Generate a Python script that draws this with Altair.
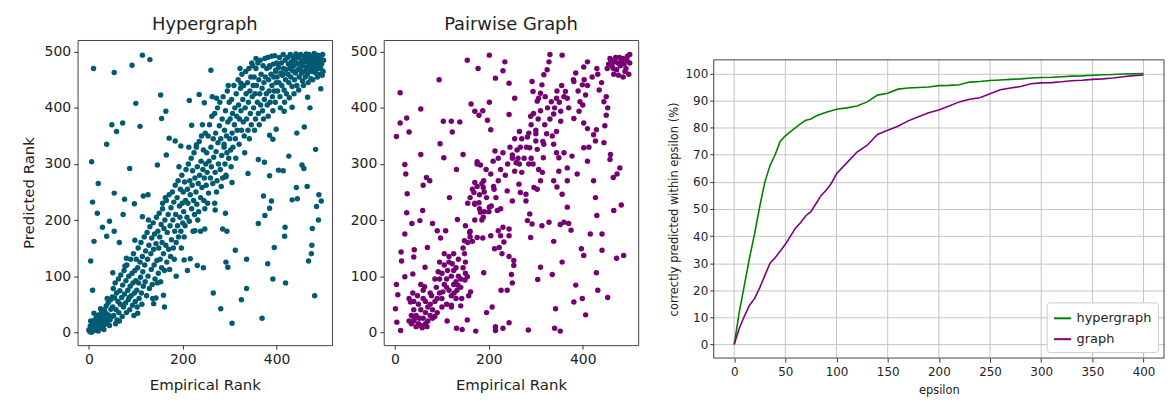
import altair as alt
import pandas as pd

# ---------------- data ----------------
hyper_outliers = [
    (10,470),(54,463),(92,476),(114,494),(130,486),(260,467),(356,488),(324,444),(153,423),(164,394),
    (155,381),(100,408),(214,413),(235,424),(246,409),(272,417),(109,367),(49,370),(72,373),(59,358),
    (38,335),(87,292),(6,304),(146,298),(165,316),(171,346),(184,341),(196,332),(219,369),(229,334),
    (20,265),(54,248),(8,232),(97,229),(76,237),(116,243),(126,245),(157,230),(18,212),(73,210),
    (114,206),(44,198),(29,187),(54,180),(38,171),(65,160),(11,162),(98,164),(4,127),(80,132),
    (8,75),(51,106),(104,34),
    (265,70),(281,42),(305,16),(325,58),(336,78),(369,25),(336,130),(312,146),(292,125),(296,116),
    (244,115),(231,119),(210,110),(216,131),(203,129),(186,100),(161,45),(138,51),(143,61),(159,66),
    (381,122),(392,95),(395,151),(419,88),(417,171),(418,187),(481,65),(468,127),(474,140),(475,155),
    (476,185),(489,200),(485,224),(490,245),(495,234),(483,326),(465,260),(458,292),(454,298),(444,238),
    (433,236),(442,258),(426,314),(414,288),(404,289),(372,243),(375,208),(389,234),(385,221),(361,194),
    (374,303),(361,308),(385,279),(385,351),(392,344),(399,362),(443,355),(459,366),(416,394),(433,401),
    (471,400),(466,419),(494,434),(398,467),(385,473),(414,460),(339,283),(305,267),(292,277),(288,330),
    (269,218),(268,230),(291,212),(294,180),(285,184),(238,180),(247,184),(226,181),
]

hyper_band = [
    (0,4),(2,1),(3,11),(5,6),(6,0),(7,17),(9,9),(10,3),(12,22),(13,13),(14,4),(16,27),(17,10),(19,19),
    (20,2),(21,31),(23,14),(24,24),(26,8),(27,36),(29,18),(30,29),(31,12),(33,40),(34,24),(36,15),
    (37,47),(38,33),(40,21),(41,52),(43,30),(44,12),(46,58),(47,41),(48,27),(50,63),(4,20),(11,34),
    (18,6),(25,42),(32,5),(39,60),(45,22),
    (51,45),(52,78),(53,30),(55,61),(56,88),(58,40),(59,70),(60,22),(62,55),(63,95),(64,35),(66,74),
    (67,50),(68,102),(70,62),(71,28),(72,84),(74,45),(75,110),(76,68),(78,52),(79,92),(80,35),(81,120),
    (83,75),(84,58),(85,100),(87,40),(88,82),(89,130),(90,65),(92,105),(93,48),(94,88),(95,140),(97,70),
    (98,110),(99,55),(100,92),(57,15),(65,20),(77,118),(86,62),(96,30),
    (101,130),(102,75),(104,115),(105,150),(106,88),(107,60),(109,125),(110,98),(111,160),(112,70),
    (114,135),(115,108),(116,82),(118,170),(119,120),(120,90),(121,145),(123,65),(124,178),(125,130),
    (126,100),(128,155),(129,78),(130,188),(132,140),(133,112),(134,168),(135,85),(137,195),(138,148),
    (139,120),(140,175),(141,95),(143,158),(144,205),(145,128),(147,180),(148,105),(149,150),(150,212),
    (103,45),(113,50),(127,200),(136,60),(146,88),
    (151,170),(152,130),(154,192),(155,115),(156,160),(157,220),(159,140),(160,185),(161,110),(162,200),
    (164,155),(165,235),(166,125),(167,178),(169,210),(170,148),(171,245),(173,190),(174,135),(175,222),
    (176,165),(178,250),(179,200),(180,150),(181,232),(183,180),(184,262),(185,210),(186,160),(188,240),
    (189,190),(190,270),(191,170),(193,225),(194,205),(195,255),(196,180),(198,280),(199,230),(200,195),
    (153,90),(163,240),(172,112),(182,130),(192,295),(197,150),
    (201,250),(202,215),(204,268),(205,190),(206,235),(207,290),(209,205),(210,255),(211,230),(212,300),
    (214,198),(215,270),(216,245),(218,310),(219,220),(220,262),(221,288),(223,235),(224,320),(225,210),
    (226,275),(228,250),(229,330),(230,228),(231,295),(233,265),(234,215),(235,340),(236,280),(238,240),
    (239,305),(240,350),(241,258),(243,290),(244,325),(245,235),(246,275),(248,355),(249,300),(250,262),
    (203,170),(213,330),(222,180),(232,200),(242,370),(247,220),
    (251,320),(252,285),(254,350),(255,248),(256,305),(257,370),(259,275),(260,330),(261,295),(262,385),
    (264,265),(265,345),(266,312),(268,390),(269,285),(270,355),(271,322),(273,270),(274,400),(275,338),
    (276,300),(278,368),(279,410),(280,290),(281,345),(283,315),(284,380),(285,275),(286,420),(288,335),
    (289,360),(290,300),(291,395),(293,350),(294,320),(295,430),(296,375),(298,310),(299,410),(300,345),
    (253,230),(263,420),(272,250),(282,260),(292,280),(297,440),
    (301,380),(302,325),(304,415),(305,355),(306,390),(307,330),(309,440),(310,370),(311,400),(312,345),
    (314,425),(315,385),(316,360),(318,450),(319,405),(320,335),(321,380),(323,435),(324,395),(325,360),
    (326,460),(328,415),(329,375),(330,440),(331,350),(333,400),(334,465),(335,425),(336,380),(338,445),
    (339,360),(340,410),(341,470),(343,430),(344,390),(345,455),(346,370),(348,420),(349,475),(350,440),
    (303,295),(313,310),(322,470),(332,320),(342,345),(347,480),
    (351,400),(352,455),(354,425),(355,380),(356,470),(357,440),(359,410),(360,480),(361,390),(362,450),
    (364,425),(365,485),(366,405),(367,460),(369,435),(370,395),(371,475),(373,445),(374,415),(375,488),
    (376,455),(378,425),(379,470),(380,405),(381,490),(383,450),(384,430),(385,475),(386,410),(388,460),
    (389,492),(390,440),(391,420),(393,478),(394,455),(395,430),(396,493),(398,465),(399,445),(400,480),
    (353,360),(363,370),(372,380),(382,385),(392,395),(397,410),
    (401,455),(402,430),(404,472),(405,445),(406,490),(407,420),(409,462),(410,480),(411,440),(412,458),
    (414,495),(415,470),(416,432),(418,485),(419,450),(420,468),(421,425),(423,490),(424,460),(425,478),
    (426,445),(428,470),(429,495),(430,455),(431,482),(433,438),(434,466),(435,490),(436,475),(438,450),
    (439,485),(440,462),(441,496),(443,440),(444,478),(445,468),(446,490),(448,455),(449,480),(450,470),
    (451,495),(453,462),(454,485),(455,448),(456,475),(458,492),(459,465),(460,482),(461,455),(463,496),
    (464,472),(465,488),(466,460),(468,480),(469,495),(470,468),(471,486),(473,452),(474,476),(475,492),
    (476,465),(478,484),(479,470),(480,497),(481,478),(483,462),(484,490),(485,480),(486,470),(488,494),
    (489,484),(490,460),(491,476),(493,492),(494,470),(495,486),(496,478),(498,495),(499,465),(500,485),
    (408,400),(417,410),(427,418),(437,425),(447,432),(457,440),(467,445),(477,450),(487,455),(497,458),
]

pair_scatter = [
    (3,349),(11,427),(11,373),(25,382),(30,357),(55,398),(94,450),(154,485),(177,470),(201,494),
    (234,482),(230,466),(214,453),(243,444),(255,417),(243,388),(201,410),(197,378),(204,361),(187,395),
    (162,407),(170,394),(179,387),(120,376),(122,357),(138,375),(103,376),(96,336),(104,311),(55,317),
    (21,299),(23,282),(26,247),(25,213),(21,175),(13,143),(14,127),(21,99),(3,85),(6,67),
    (1,42),(4,18),(12,3),(33,54),(41,23),(60,262),(67,276),(74,270),(69,151),(59,217),
    (53,199),(36,194),(41,147),(40,134),(38,104),(64,116),(63,81),(80,194),(90,181),(108,181),
    (97,168),(116,240),(131,290),(145,317),(133,201),(148,163),(159,178),(168,249),(170,267),(175,304),
    (182,298),(189,270),(188,258),(194,290),(209,305),(213,323),(204,282),(211,255),(201,223),(188,205),
    (182,214),(179,231),(170,228),(175,169),(187,168),(165,162),(204,172),(218,217),(225,220),(230,187),
    (220,181),(225,172),(222,151),(232,161),(228,140),(243,135),(212,149),(243,184),(243,172),(239,252),
    (250,234),(255,287),(258,302),(250,316),(262,310),(264,264),(267,249),(279,246),(279,234),(267,330),
    (270,345),(265,358),(282,348),(285,355),(289,385),(287,329),(290,310),(294,300),(296,258),(287,211),
    (282,199),(292,193),(289,169),(303,255),(310,270),(306,290),(314,285),(316,311),(303,326),(300,341),
    (317,335),(323,354),(319,370),(300,354),(303,412),(310,426),(313,441),(317,459),(330,495),(328,482),
    (324,468),(356,494),(292,447),(294,429),(306,417),(333,411),(344,417),(338,389),(353,394),(353,376),
    (344,358),(338,335),(344,320),(360,320),(349,311),(338,270),(349,287),(345,259),(356,246),(367,270),
    (367,293),(377,314),(388,282),(363,429),(367,417),(381,447),(385,462),(399,441),(403,450),(402,473),
    (410,482),(406,423),(394,411),(392,394),(381,381),(402,373),(410,363),(402,329),(410,305),(413,330),
    (423,352),(429,361),(427,341),(432,460),(435,432),(445,411),(453,400),(450,387),(447,368),(445,338),
    (459,317),(465,276),(458,308),(473,282),(479,293),(482,227),(487,137),(472,132),(466,217),(453,62),
    (423,270),(427,240),(430,208),(416,175),(441,175),(441,146),(429,106),(432,75),(402,137),(397,149),
    (406,31),(399,60),(385,84),(381,54),(375,182),(370,194),(360,196),(352,192),(367,223),(356,125),
    (335,103),(310,116),(304,94),(338,162),(328,196),(313,190),(284,4),(352,2),(340,7),(342,42),
    (253,119),(250,88),(248,103),(253,128),(243,17),(230,7),(214,10),(214,3),(239,75),(226,75),
    (207,45),(195,35),(172,2),(154,22),(143,5),(131,7),(111,20),(140,47),(120,45),(126,70),
    (134,84),(149,93),(154,99),(189,106),(161,72),(157,65),
]

pair_cluster = [
    (40,20),(45,30),(50,15),(55,40),(60,25),(65,35),(70,45),(75,30),(80,40),(85,55),(50,50),(60,60),
    (70,20),(80,25),(90,35),(45,10),(55,12),(65,15),(75,50),(85,28),(95,70),(100,60),(105,85),(110,95),
    (115,75),(120,100),(125,110),(130,90),(100,105),(105,120),(110,80),(115,125),(120,65),(125,85),
    (130,115),(135,100),(140,80),(95,95),(90,60),(100,45),(110,50),(120,48),(130,60),(140,95),(145,115),
    (150,105),(135,130),(125,140),(115,135),(105,140),(95,125),(85,95),(75,70),(65,55),(60,75),(55,85),
    (40,40),(35,30),(30,20),(35,15),(40,55),(48,65),(52,25),(58,8),(68,10),(78,65),(88,80),(92,108),
    (102,72),(112,110),(122,122),(132,75),(142,60),(148,140),(155,160),(160,170),(150,125),(145,150),
    (38,70),(30,60),
    (455,478),(460,485),(465,470),(470,490),(475,480),(480,475),(485,488),(490,465),(495,492),(500,480),
    (462,475),(468,482),(472,468),(478,490),(482,482),(488,478),(492,470),(498,460),(458,488),(466,460),
    (476,458),(486,455),(494,485),(500,495),(452,470),
    (160,240),(165,255),(170,230),(175,260),(180,245),(185,265),(190,250),(195,240),(200,215),(205,225),
    (210,260),(215,240),(220,270),(180,220),(185,200),(190,215),(170,200),(160,180),(150,190),(155,230),
    (175,300),(220,310),(225,290),(230,320),(235,280),(240,300),(245,330),(250,310),(255,345),(260,325),
    (265,300),(270,285),(275,310),(280,330),(285,300),(290,370),(295,390),(300,360),(305,380),(310,395),
    (315,340),(320,420),(325,400),(330,380),(335,350),(340,400),(345,430),(350,410),(355,440),(360,420),
    (370,400),(380,450),(390,430),(400,405),(410,440),(420,455),(430,470),(440,445),(450,420),
]

eps = [0,5,10,15,20,25,30,35,40,45,50,55,60,65,70,75,80,85,90,95,100,
       110,120,130,140,150,160,170,180,190,200,210,220,230,240,250,260,270,280,290,300,
       310,320,330,340,350,360,370,380,390,400]
hyper_pct = [0,12,22,32,41,51,60,66,70,75,77,78.5,80,81.5,82.7,83.2,84.3,85,85.7,86.2,86.8,
             87.3,88,89.5,92,92.7,94.2,94.6,94.8,95,95.5,95.6,95.8,96.8,97,97.4,97.6,97.8,98,98.3,98.5,
             98.6,98.8,99,99.1,99.3,99.5,99.6,99.8,99.9,100]
graph_pct = [0,6,10.5,14.5,17,21,25.5,30,32,34.5,37,40,43,45,47.5,49,52,55,57,59.5,63,
             67,71,73.5,77.5,79,80.5,82.5,84,85.5,86.5,88,89.5,90.5,91,92.5,94,94.6,95.2,96.2,96.5,
             96.6,96.9,97.3,97.5,97.8,98,98.3,98.8,99.2,99.4]
eps_ticks = [0, 50, 100, 150, 200, 250, 300, 350, 400]
pct_ticks = [0, 10, 20, 30, 40, 50, 60, 70, 80, 90, 100]

FONT = "DejaVu Sans"
TEAL = "#005b72"
PURP = "#760071"
FRAME = "#444"
GRID = "#c4c4c4"

hyper_df = pd.DataFrame(hyper_band + hyper_outliers, columns=["emp", "pred"])
pair_df = pd.DataFrame(pair_scatter + pair_cluster, columns=["emp", "pred"])

def scatter(df, color, title, show_ytitle):
    yax = alt.Axis(values=[0, 100, 200, 300, 400, 500], grid=False, tickSize=4,
                   labelFontSize=14, titleFontSize=15, labelColor="#222", titleColor="#222",
                   titleFontWeight="normal", tickColor="#333", domain=False, titlePadding=8,
                   labelPadding=3, labelFont=FONT, titleFont=FONT,
                   title="Predicted Rank" if show_ytitle else None)
    xax = alt.Axis(values=[0, 200, 400], grid=False, tickSize=4, labelFontSize=14,
                   titleFontSize=15, labelColor="#222", titleColor="#222",
                   titleFontWeight="normal", tickColor="#333", domain=False, titlePadding=12,
                   labelPadding=3, labelFont=FONT, titleFont=FONT, labelFlush=False,
                   title="Empirical Rank")
    return alt.Chart(df).mark_circle(size=30, opacity=1, color=color).encode(
        x=alt.X("emp:Q", scale=alt.Scale(domain=[-24, 518], nice=False, zero=False), axis=xax),
        y=alt.Y("pred:Q", scale=alt.Scale(domain=[-23, 521], nice=False, zero=False), axis=yax),
    ).properties(
        width=256, height=307,
        title=alt.TitleParams(title, fontSize=18, font=FONT, fontWeight="normal", color="#222", offset=6),
    )

p1 = scatter(hyper_df, TEAL, "Hypergraph", True)
p2 = scatter(pair_df, PURP, "Pairwise Graph", False)

line_df = pd.concat([
    pd.DataFrame({"eps": eps, "pct": hyper_pct, "series": "hypergraph"}),
    pd.DataFrame({"eps": eps, "pct": graph_pct, "series": "graph"}),
])

# The line panel sits 20px lower than the scatter panels: its view is 320px tall
# and the y scale only uses the lower 300px of it.
P3_W, P3_H, P3_TOP = 453, 320, 20
xscale = alt.Scale(domain=[-20, 420], nice=False, zero=False)
xaxis = alt.Axis(values=eps_ticks, title="epsilon", grid=False,
                 tickSize=4, labelFontSize=12, titleFontSize=11.5,
                 labelColor="#222", titleColor="#222", titleFontWeight="normal",
                 domain=False, labelFont=FONT, titleFont=FONT, titlePadding=7,
                 labelPadding=5, tickColor="#333")

# vertical grid lines limited to the framed area (drawn first, under the lines)
vgrid = alt.Chart(pd.DataFrame({"eps": eps_ticks})).mark_rule(color=GRID, strokeWidth=1).encode(
    x=alt.X("eps:Q", scale=xscale, axis=xaxis),
    y=alt.value(P3_TOP), y2=alt.value(P3_H),
)

lines = alt.Chart(line_df).mark_line(strokeWidth=1.6).encode(
    x=alt.X("eps:Q", scale=xscale, axis=xaxis),
    y=alt.Y("pct:Q", scale=alt.Scale(domain=[-5, 105], nice=False, zero=False, range=[P3_H, P3_TOP]),
            axis=alt.Axis(values=pct_ticks, title="correctly predicted within epsilon (%)",
                          grid=True, gridColor=GRID, tickSize=4, labelFontSize=12,
                          titleFontSize=11.5, labelColor="#222", titleColor="#222",
                          titleFontWeight="normal", domain=False, labelFont=FONT, titleFont=FONT,
                          titlePadding=6, tickColor="#333")),
    color=alt.Color("series:N",
                    scale=alt.Scale(domain=["hypergraph", "graph"], range=["#008000", "#800080"]),
                    legend=alt.Legend(title=None, orient="bottom-right", offset=6, symbolType="stroke",
                                      symbolStrokeWidth=2, symbolSize=300, labelFontSize=13,
                                      labelFont=FONT, labelColor="#222", fillColor="white",
                                      strokeColor="#cccccc", padding=6, cornerRadius=3,
                                      rowPadding=4)),
    order=alt.Order("eps:Q"),
)

frame = alt.Chart(pd.DataFrame({"f": [0]})).mark_rect(
    fill=None, filled=False, stroke=FRAME, strokeWidth=1
).encode(
    x=alt.value(0), x2=alt.value(P3_W), y=alt.value(P3_TOP), y2=alt.value(P3_H)
)

p3 = alt.layer(vgrid, lines, frame).properties(
    width=P3_W, height=P3_H, view=alt.ViewBackground(stroke=None, strokeWidth=0)
)

left = alt.hconcat(p1, p2, spacing=16)
chart = alt.hconcat(left, p3, spacing=29).resolve_scale(
    color="independent"
).resolve_legend(color="independent").configure_view(
    stroke=FRAME, strokeWidth=1
).properties(padding={"left": 12, "top": 6, "right": 0, "bottom": 0})

chart.save("out.html", embed_options={"renderer": "svg", "actions": False})
